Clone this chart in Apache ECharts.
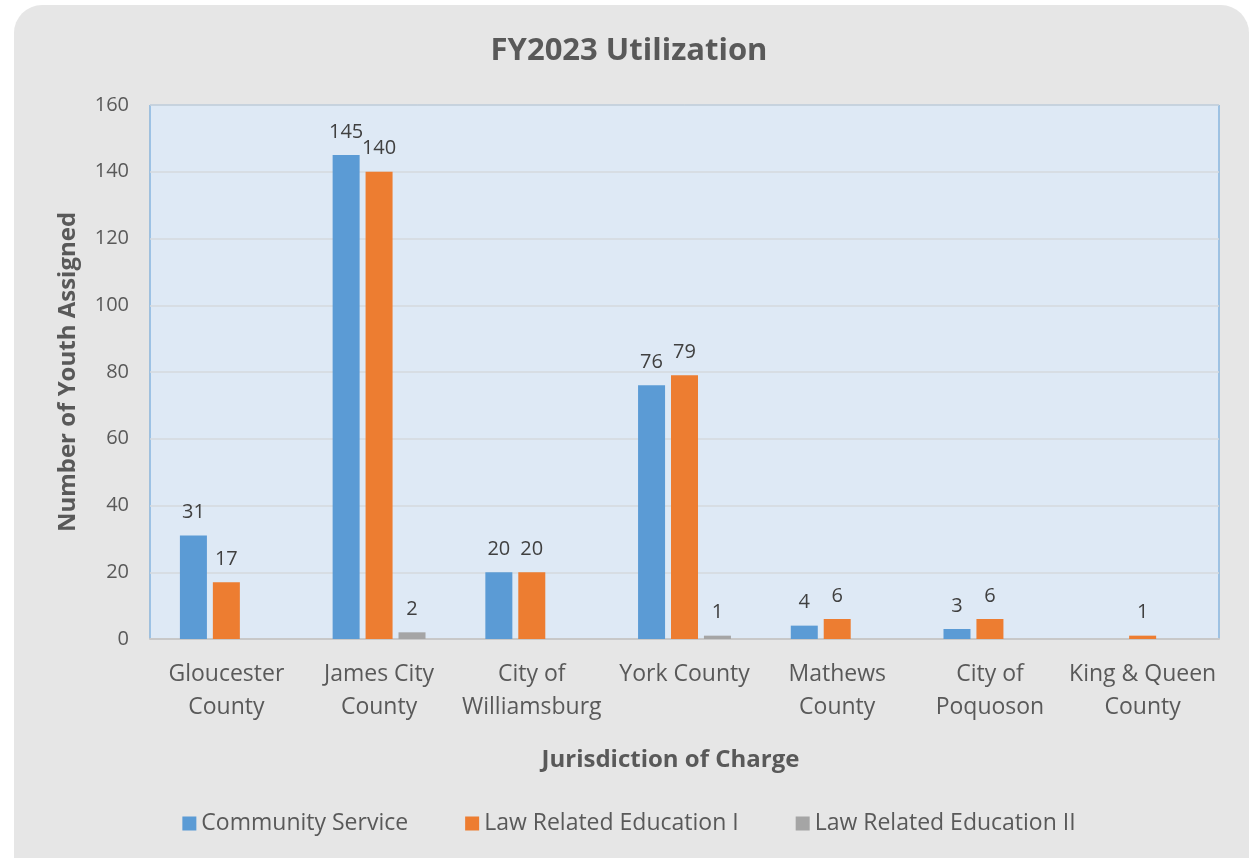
<!DOCTYPE html>
<html><head><meta charset="utf-8">
<script src="https://cdn.jsdelivr.net/npm/echarts@6/dist/echarts.min.js"></script>
<style>html,body{margin:0;padding:0;background:#fff;}#c{width:1258px;height:858px;}</style>
</head><body><div id="c"></div>
<script>
const categories = ['Gloucester\nCounty','James City\nCounty','City of\nWilliamsburg','York County','Mathews\nCounty','City of\nPoquoson','King & Queen\nCounty'];
const communityService = [31,145,20,76,4,3,null];
const lawRelatedEd1 = [17,140,20,79,6,6,1];
const lawRelatedEd2 = [null,2,null,1,null,null,null];
const yTicks = [0,20,40,60,80,100,120,140,160];

const font = '"Open Sans", sans-serif';
const chart = echarts.init(document.getElementById('c'));
const lbl = {show:true, position:'top', distance:13, color:'#404040', fontSize:20, fontFamily:font};
chart.setOption({
  backgroundColor:'#fff',
  animation:false,
  graphic:[{type:'rect', z:-10, silent:true, shape:{x:14,y:5,width:1235,height:880,r:28}, style:{fill:'#e6e6e6'}}],
  title:{text:'FY2023 Utilization', left:'center', top:31, textStyle:{fontFamily:font, fontSize:31, fontWeight:'bold', color:'#595959'}},
  grid:{left:150, right:39, top:105, bottom:219, show:true, backgroundColor:'#dee9f5', borderColor:'#5b9bd5', borderWidth:1, containLabel:false},
  legend:{bottom:18, left:'center', itemWidth:14, itemHeight:14, itemGap:57, icon:'rect',
    textStyle:{fontFamily:font, fontSize:23, color:'#595959'},
    data:['Community Service','Law Related Education I','Law Related Education II']},
  xAxis:{type:'category', data:categories,
    axisLine:{lineStyle:{color:'#c8c8c8', width:2}}, axisTick:{show:false},
    axisLabel:{fontFamily:font, fontSize:23, color:'#595959', lineHeight:33, margin:19, interval:0},
    name:'Jurisdiction of Charge', nameLocation:'middle', nameGap:109,
    nameTextStyle:{fontFamily:font, fontSize:24, fontWeight:'bold', color:'#595959', padding:[0,28,0,0]}},
  yAxis:{type:'value', min:0, max:160, interval:20,
    axisLine:{show:false}, axisTick:{show:false},
    axisLabel:{fontFamily:font, fontSize:20, color:'#595959', margin:21},
    splitLine:{lineStyle:{color:'#d4d8dc', width:1.5}},
    name:'Number of Youth Assigned', nameLocation:'middle', nameGap:70,
    nameTextStyle:{fontFamily:font, fontSize:24, fontWeight:'bold', color:'#595959'}},
  series:[
    {name:'Community Service', type:'bar', data:communityService, barWidth:27, barGap:'22%', itemStyle:{color:'#5b9bd5'}, label:lbl},
    {name:'Law Related Education I', type:'bar', data:lawRelatedEd1, barWidth:27, barGap:'22%', itemStyle:{color:'#ed7d31'}, label:lbl},
    {name:'Law Related Education II', type:'bar', data:lawRelatedEd2, barWidth:27, barGap:'22%', itemStyle:{color:'#a5a5a5'}, label:lbl}
  ]
});
</script></body></html>
